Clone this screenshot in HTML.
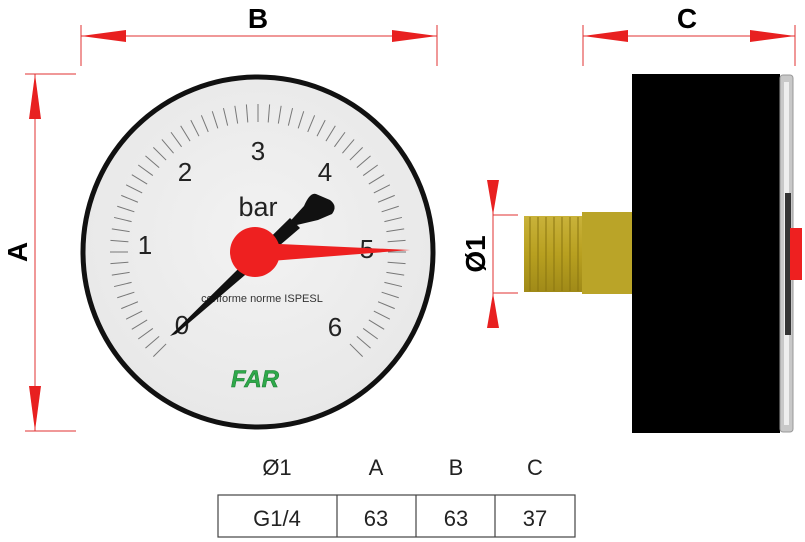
<!DOCTYPE html>
<html><head><meta charset="utf-8"><style>
html,body{margin:0;padding:0;background:#fff;width:805px;height:542px;overflow:hidden}
text{font-family:"Liberation Sans",sans-serif}
</style></head><body>
<svg id="s" width="805" height="542" viewBox="0 0 805 542" xmlns="http://www.w3.org/2000/svg">
<defs>
<linearGradient id="brass" x1="0" y1="0" x2="0" y2="1"><stop offset="0" stop-color="#c9b23a"/><stop offset="0.5" stop-color="#b8a020"/><stop offset="1" stop-color="#a08a18"/></linearGradient>
<radialGradient id="face" cx="0.5" cy="0.45" r="0.55"><stop offset="0" stop-color="#f2f2f2"/><stop offset="1" stop-color="#e8e8e8"/></radialGradient>
</defs>
<g stroke="#e03030" stroke-width="1" fill="#e82020">
<line x1="81" y1="25" x2="81" y2="66"/><line x1="437" y1="25" x2="437" y2="66"/>
<line x1="81" y1="36" x2="437" y2="36"/>
<polygon points="81,36 126,30 126,42" stroke="none"/><polygon points="437,36 392,30 392,42" stroke="none"/>
<line x1="583" y1="25" x2="583" y2="66"/><line x1="795" y1="25" x2="795" y2="66"/>
<line x1="583" y1="36" x2="795" y2="36"/>
<polygon points="583,36 628,30 628,42" stroke="none"/><polygon points="795,36 750,30 750,42" stroke="none"/>
<line x1="25" y1="74" x2="76" y2="74"/><line x1="25" y1="431" x2="76" y2="431"/>
<line x1="35" y1="74" x2="35" y2="431"/>
<polygon points="35,74 29,119 41,119" stroke="none"/><polygon points="35,431 29,386 41,386" stroke="none"/>
<line x1="493" y1="215" x2="518" y2="215"/><line x1="493" y1="293" x2="518" y2="293"/>
<line x1="493" y1="180" x2="493" y2="328"/>
<polygon points="487,180 499,180 493,215" stroke="none"/><polygon points="487,328 499,328 493,293" stroke="none"/>
</g>
<text x="258" y="28" font-size="28" font-weight="bold" text-anchor="middle">B</text>
<text x="687" y="28" font-size="28" font-weight="bold" text-anchor="middle">C</text>
<text transform="translate(27,252) rotate(-90)" font-size="28" font-weight="bold" text-anchor="middle">A</text>
<text transform="translate(485,254) rotate(-90)" font-size="28" font-weight="bold" text-anchor="middle">Ø1</text>
<circle cx="258" cy="252" r="175" fill="url(#face)" stroke="#111" stroke-width="5"/>
<g id="ticks" stroke="#777" stroke-width="1"></g>
<g font-size="26" fill="#222" text-anchor="middle">
<text x="182" y="334">0</text><text x="145" y="254">1</text><text x="185" y="181">2</text>
<text x="258" y="160">3</text><text x="325" y="181">4</text><text x="367" y="258">5</text><text x="335" y="336">6</text>
</g>
<text x="258" y="216" font-size="27" fill="#222" text-anchor="middle">bar</text>
<text x="262" y="302" font-size="11" fill="#333" text-anchor="middle">conforme norme ISPESL</text>
<text x="255" y="387" font-size="24" font-style="italic" font-weight="bold" fill="#2ea84a" stroke="#1a7a30" stroke-width="0.5" text-anchor="middle">FAR</text>
<polygon points="170,336 176,334 300,228 290,218" fill="#111"/>
<path d="M284,228 L304,206 Q310,192 316,194 L330,200 Q338,206 332,214 L318,220 Z" fill="#111"/>
<polygon points="258,243 410,250 258,262" fill="#ee2020"/>
<circle cx="255" cy="252" r="25" fill="#ee2020"/>
<rect x="524" y="216" width="58" height="76" fill="url(#brass)"/>
<g stroke="#8a7510" stroke-width="1">
<line x1="530" y1="217" x2="530" y2="291"/><line x1="538" y1="217" x2="538" y2="291"/><line x1="546" y1="217" x2="546" y2="291"/><line x1="554" y1="217" x2="554" y2="291"/><line x1="562" y1="217" x2="562" y2="291"/><line x1="570" y1="217" x2="570" y2="291"/><line x1="578" y1="217" x2="578" y2="291"/>
</g>
<rect x="582" y="212" width="50" height="82" fill="#baa428"/>
<rect x="632" y="74" width="148" height="359" fill="#000"/>
<rect x="780" y="75" width="13" height="357" rx="3" fill="#c8c8c8" stroke="#999"/>
<rect x="784" y="82" width="5" height="343" fill="#eee"/>
<rect x="785" y="193" width="6" height="142" fill="#333"/>
<rect x="790" y="228" width="12" height="52" fill="#ee2020"/>
<g font-size="22" fill="#222" text-anchor="middle">
<text x="277" y="475">Ø1</text><text x="376" y="475">A</text><text x="456" y="475">B</text><text x="535" y="475">C</text>
<text x="277" y="526">G1/4</text><text x="376" y="526">63</text><text x="456" y="526">63</text><text x="535" y="526">37</text>
</g>
<g fill="none" stroke="#444" stroke-width="1.2">
<rect x="218" y="495" width="357" height="42"/>
<line x1="337" y1="495" x2="337" y2="537"/><line x1="416" y1="495" x2="416" y2="537"/><line x1="495" y1="495" x2="495" y2="537"/>
</g>
</svg>
<script>
var g=document.getElementById('ticks'),cx=258,cy=252;
for(var i=0;i<=60;i++){var a=(135+i*4.5)*Math.PI/180,r1=130,r2=148;
var l=document.createElementNS('http://www.w3.org/2000/svg','line');
l.setAttribute('x1',cx+r1*Math.cos(a));l.setAttribute('y1',cy+r1*Math.sin(a));
l.setAttribute('x2',cx+r2*Math.cos(a));l.setAttribute('y2',cy+r2*Math.sin(a));g.appendChild(l);}
</script>
</body></html>
